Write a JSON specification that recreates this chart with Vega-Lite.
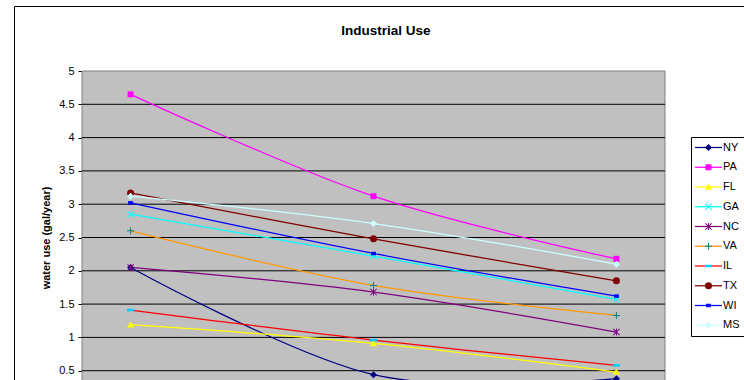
{
  "$schema": "https://vega.github.io/schema/vega-lite/v6.json",
  "width": 744,
  "height": 420,
  "autosize": "none",
  "padding": {"left": 14, "top": 6, "right": -14, "bottom": -46},
  "background": "white",
  "title": {
    "text": "Industrial Use",
    "orient": "top",
    "anchor": "middle",
    "frame": "group",
    "offset": -31,
    "font": "Liberation Sans",
    "fontSize": 13.5,
    "fontWeight": "bold",
    "color": "black"
  },
  "config": {
    "view": {"stroke": "black", "strokeWidth": 1, "fill": "white"},
    "axisY": {
      "offset": -68,
      "domainColor": "black",
      "domainWidth": 1,
      "tickColor": "black",
      "tickSize": 4,
      "labelFont": "Liberation Sans",
      "labelFontSize": 11,
      "labelColor": "black",
      "labelPadding": 4,
      "titleFont": "Liberation Sans",
      "titleFontSize": 11,
      "titleFontWeight": "bold",
      "titleColor": "black",
      "titlePadding": 7,
      "grid": false
    }
  },
  "data": {
    "values": [
      {"state": "NY", "year": 1995, "value": 2.05},
      {"state": "NY", "year": 2000, "value": 0.44},
      {"state": "NY", "year": 2005, "value": 0.38},
      {"state": "PA", "year": 1995, "value": 4.65},
      {"state": "PA", "year": 2000, "value": 3.12},
      {"state": "PA", "year": 2005, "value": 2.18},
      {"state": "FL", "year": 1995, "value": 1.19},
      {"state": "FL", "year": 2000, "value": 0.91},
      {"state": "FL", "year": 2005, "value": 0.48},
      {"state": "GA", "year": 1995, "value": 2.85},
      {"state": "GA", "year": 2000, "value": 2.22},
      {"state": "GA", "year": 2005, "value": 1.57},
      {"state": "NC", "year": 1995, "value": 2.05},
      {"state": "NC", "year": 2000, "value": 1.68},
      {"state": "NC", "year": 2005, "value": 1.08},
      {"state": "VA", "year": 1995, "value": 2.6},
      {"state": "VA", "year": 2000, "value": 1.78},
      {"state": "VA", "year": 2005, "value": 1.33},
      {"state": "IL", "year": 1995, "value": 1.41},
      {"state": "IL", "year": 2000, "value": 0.96},
      {"state": "IL", "year": 2005, "value": 0.58},
      {"state": "TX", "year": 1995, "value": 3.17},
      {"state": "TX", "year": 2000, "value": 2.48},
      {"state": "TX", "year": 2005, "value": 1.85},
      {"state": "WI", "year": 1995, "value": 3.02},
      {"state": "WI", "year": 2000, "value": 2.26},
      {"state": "WI", "year": 2005, "value": 1.62},
      {"state": "MS", "year": 1995, "value": 3.12},
      {"state": "MS", "year": 2000, "value": 2.71},
      {"state": "MS", "year": 2005, "value": 2.1}
    ]
  },
  "layer": [
    {
      "data": {"values": [{}]},
      "mark": {"type": "rect", "fill": "#C0C0C0", "stroke": "#808080", "strokeWidth": 1},
      "encoding": {
        "x": {"datum": 1994, "type": "quantitative", "scale": {"domain": [1994, 2006], "range": [68, 651], "nice": false, "zero": false}, "axis": null},
        "x2": {"datum": 2006},
        "y": {"datum": 0, "type": "quantitative", "scale": {"domain": [0, 5], "range": [398, 65], "nice": false, "zero": true}, "title": "water use (gal/year)", "axis": {"values": [0, 0.5, 1, 1.5, 2, 2.5, 3, 3.5, 4, 4.5, 5], "format": "~g"}},
        "y2": {"datum": 5}
      }
    },
    {
      "data": {"values": [{"v": 0.5}, {"v": 1}, {"v": 1.5}, {"v": 2}, {"v": 2.5}, {"v": 3}, {"v": 3.5}, {"v": 4}, {"v": 4.5}]},
      "mark": {"type": "rule", "color": "black", "strokeWidth": 1},
      "encoding": {
        "x": {"datum": 1994, "type": "quantitative", "axis": null},
        "x2": {"datum": 2006},
        "y": {"field": "v", "type": "quantitative", "title": "water use (gal/year)"}
      }
    },
    {
      "mark": {"type": "line", "interpolate": "cardinal", "strokeWidth": 1.25},
      "encoding": {
        "x": {"field": "year", "type": "quantitative", "axis": null},
        "y": {"field": "value", "type": "quantitative", "title": "water use (gal/year)"},
        "stroke": {
          "field": "state",
          "type": "nominal",
          "scale": {
            "domain": ["NY", "PA", "FL", "GA", "NC", "VA", "IL", "TX", "WI", "MS"],
            "range": ["#000080", "#FF00FF", "#FFFF00", "#00FFFF", "#800080", "#FF9900", "#FF0000", "#800000", "#0000FF", "#CCFFFF"]
          },
          "legend": {
            "orient": "none",
            "legendX": 677,
            "legendY": 131,
            "title": null,
            "padding": 5,
            "strokeColor": "black",
            "symbolType": "M-3.86,0H3.86",
            "symbolSize": 49,
            "symbolStrokeWidth": 1.25,
            "symbolOffset": 7,
            "labelOffset": 9,
            "labelFont": "Liberation Sans",
            "labelFontSize": 11,
            "labelColor": "black",
            "rowPadding": 7.75
          }
        }
      }
    },
    {
      "mark": {"type": "point", "filled": true, "size": 49, "opacity": 1, "strokeWidth": 0},
      "encoding": {
        "x": {"field": "year", "type": "quantitative", "axis": null},
        "y": {"field": "value", "type": "quantitative", "title": "water use (gal/year)"},
        "fill": {
          "field": "state",
          "type": "nominal",
          "scale": {
            "domain": ["NY", "PA", "FL", "GA", "NC", "VA", "IL", "TX", "WI", "MS"],
            "range": ["#000080", "#FF00FF", "#FFFF00", "#00FFFF", "#800080", "#008080", "#00CCFF", "#800000", "#0000FF", "#CCFFFF"]
          },
          "legend": {
            "orient": "none",
            "legendX": 677,
            "legendY": 131,
            "title": null,
            "padding": 5,
            "symbolSize": 49,
            "symbolStrokeWidth": 0,
            "symbolOffset": 7,
            "labelFont": "Liberation Sans",
            "labelFontSize": 11,
            "labelExpr": "''",
            "rowPadding": 7.75
          }
        },
        "shape": {
          "field": "state",
          "type": "nominal",
          "scale": {
            "domain": ["NY", "PA", "FL", "GA", "NC", "VA", "IL", "TX", "WI", "MS"],
            "range": [
              "M0,-1L1,0L0,1L-1,0Z",
              "M-0.85,-0.85H0.85V0.85H-0.85Z",
              "M0,-1L1,0.8H-1Z",
              "M-1,-0.8L-0.8,-1L1,0.8L0.8,1ZM0.8,-1L1,-0.8L-0.8,1L-1,0.8Z",
              "M-1,-0.8L-0.8,-1L1,0.8L0.8,1ZM0.8,-1L1,-0.8L-0.8,1L-1,0.8ZM-0.14,-1H0.14V1H-0.14Z",
              "M-1,-0.14H1V0.14H-1ZM-0.14,-1H0.14V1H-0.14Z",
              "M-1,-0.35H1V0.35H-1Z",
              "circle",
              "M-0.7,-0.5H0.7V0.5H-0.7Z",
              "M0,-1L1,0L0,1L-1,0Z"
            ]
          },
          "legend": {
            "orient": "none",
            "legendX": 677,
            "legendY": 131,
            "title": null,
            "padding": 5,
            "symbolSize": 49,
            "symbolStrokeWidth": 0,
            "symbolOffset": 7,
            "labelFont": "Liberation Sans",
            "labelFontSize": 11,
            "labelExpr": "''",
            "rowPadding": 7.75
          }
        }
      }
    }
  ],
  "resolve": {"legend": {"fill": "independent", "shape": "independent"}}
}
